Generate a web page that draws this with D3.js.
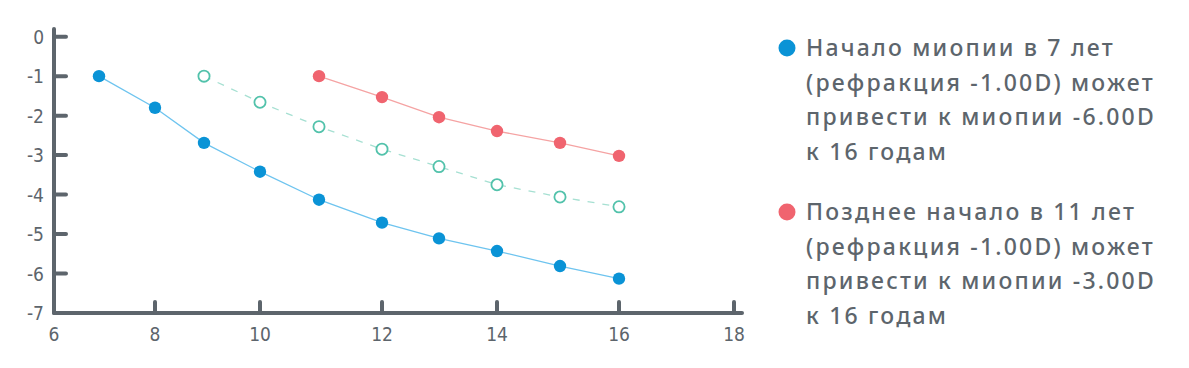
<!DOCTYPE html>
<html>
<head>
<meta charset="utf-8">
<script src="https://cdn.jsdelivr.net/npm/d3@7"></script>
<style>
  body { margin: 0; background: #fff; }
  svg { display: block; }
</style>
</head>
<body>
<svg id="chart" width="1189" height="368"></svg>
<script>
// Ages (x) and refraction in dioptres (y)
var earlyAges = [7, 8, 9, 10, 11, 12, 13, 14, 15, 16];
var earlyValues = [-1.0, -1.8, -2.69, -3.42, -4.13, -4.71, -5.11, -5.43, -5.81, -6.13];

var middleAges = [9, 10, 11, 12, 13, 14, 15, 16];
var middleValues = [-1.0, -1.66, -2.28, -2.85, -3.29, -3.75, -4.06, -4.31];

var lateAges = [11, 12, 13, 14, 15, 16];
var lateValues = [-1.0, -1.53, -2.04, -2.39, -2.69, -3.02];

var xTicks = [6, 8, 10, 12, 14, 16, 18];
var yTicks = [0, -1, -2, -3, -4, -5, -6, -7];

var legendEarly = ["Начало миопии в 7 лет", "(рефракция -1.00D) может", "привести к миопии -6.00D", "к 16 годам"];
var legendLate = ["Позднее начало в 11 лет", "(рефракция -1.00D) может", "привести к миопии -3.00D", "к 16 годам"];

var axisColor = "#5d656c";
var textColor = "#5d656c";
var labelFont = "'Liberation Sans Narrow', 'DejaVu Sans Condensed', 'Roboto', sans-serif";

var svg = d3.select("#chart");

// the printed x axis is hand spaced, so every year gets its own place
var x = d3.scaleLinear()
    .domain([6, 7, 8, 9, 10, 11, 12, 13, 14, 15, 16, 17, 18])
    .range([54, 99, 155, 204, 260, 319, 382, 439, 497, 560, 619, 676, 734]);
var y = d3.scaleLinear().domain([0, -7]).range([36.7, 313]);

// axes
var axis = svg.append("g")
    .attr("stroke", axisColor)
    .attr("stroke-width", 4)
    .attr("stroke-linecap", "round");

axis.append("line")
    .attr("x1", x(6)).attr("x2", x(6))
    .attr("y1", 29).attr("y2", y(-7));
axis.append("line")
    .attr("x1", x(6)).attr("x2", 742)
    .attr("y1", y(-7)).attr("y2", y(-7));

axis.selectAll(".ytick")
    .data(yTicks.filter(function (d) { return d > -7; }))
    .join("line")
    .attr("x1", x(6)).attr("x2", 66)
    .attr("y1", function (d) { return y(d); })
    .attr("y2", function (d) { return y(d); });

axis.selectAll(".xtick")
    .data(xTicks.filter(function (d) { return d > 6; }))
    .join("line")
    .attr("x1", function (d) { return x(d); })
    .attr("x2", function (d) { return x(d); })
    .attr("y1", y(-7) - 11).attr("y2", y(-7));

svg.append("g")
    .selectAll("text")
    .data(yTicks)
    .join("text")
    .attr("x", 44)
    .attr("y", function (d) { return y(d) + 7; })
    .attr("text-anchor", "end")
    .attr("fill", textColor)
    .style("font-family", labelFont)
    .style("font-size", "19px")
    .text(function (d) { return d; });

svg.append("g")
    .selectAll("text")
    .data(xTicks)
    .join("text")
    .attr("x", function (d) { return x(d); })
    .attr("y", 341)
    .attr("text-anchor", "middle")
    .attr("fill", textColor)
    .style("font-family", labelFont)
    .style("font-size", "19px")
    .text(function (d) { return d; });

// series
function drawSeries(ages, values, lineColor, dotColor, dashed, open) {
    var pts = ages.map(function (a, i) { return [a, values[i]]; });
    var line = d3.line()
        .x(function (d) { return x(d[0]); })
        .y(function (d) { return y(d[1]); });

    svg.append("path")
        .datum(pts)
        .attr("d", line)
        .attr("fill", "none")
        .attr("stroke", lineColor)
        .attr("stroke-width", 1.3)
        .attr("stroke-dasharray", dashed ? "7,8" : null);

    svg.append("g")
        .selectAll("circle")
        .data(pts)
        .join("circle")
        .attr("cx", function (d) { return x(d[0]); })
        .attr("cy", function (d) { return y(d[1]); })
        .attr("r", open ? 5.6 : 6.2)
        .attr("fill", open ? "#fff" : dotColor)
        .attr("stroke", open ? dotColor : "none")
        .attr("stroke-width", open ? 1.8 : 0);
}

drawSeries(earlyAges, earlyValues, "#6ec4ef", "#0a93d6", false, false);
drawSeries(middleAges, middleValues, "#a6e0d2", "#52c2ab", true, true);
drawSeries(lateAges, lateValues, "#f5a3a3", "#f0646f", false, false);

// legend
function drawLegend(lines, color, top) {
    svg.append("circle")
        .attr("cx", 787).attr("cy", top)
        .attr("r", 8.5)
        .attr("fill", color);
    svg.append("g")
        .selectAll("text")
        .data(lines)
        .join("text")
        .attr("x", 806)
        .attr("y", function (d, i) { return top + 8 + i * 34.5; })
        .attr("fill", textColor)
        .style("font-family", "'Noto Sans', sans-serif")
        .style("font-size", "23px")
        .style("font-weight", 500)
        .style("letter-spacing", "2.2px")
        .text(function (d) { return d; });
}

drawLegend(legendEarly, "#0a93d6", 48);
drawLegend(legendLate, "#f0646f", 212);
</script>
</body>
</html>
